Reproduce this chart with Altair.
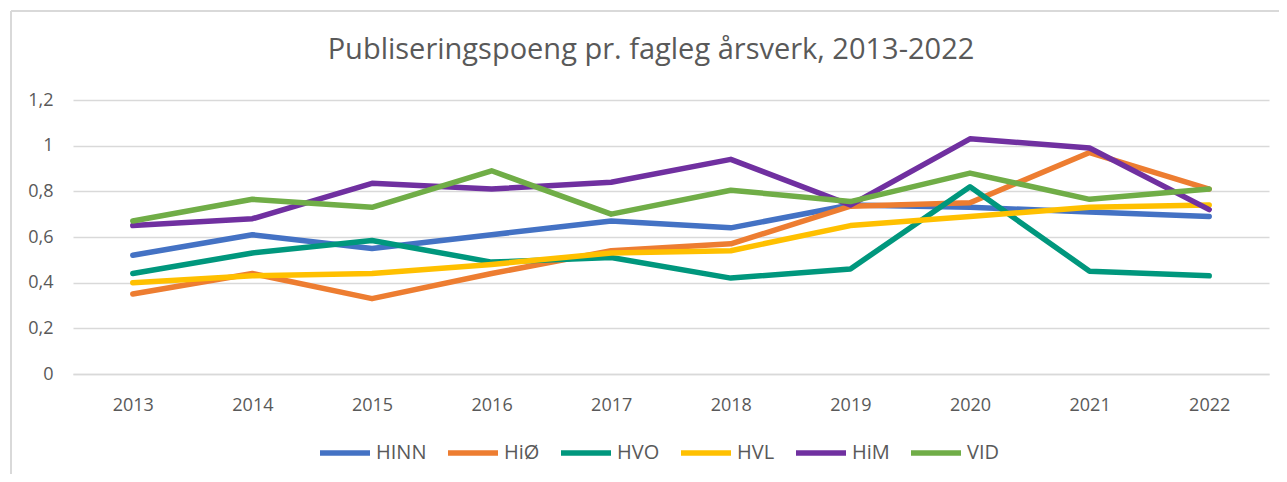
import altair as alt
import pandas as pd

years = ["2013", "2014", "2015", "2016", "2017", "2018", "2019", "2020", "2021", "2022"]
series_names = ["HINN", "HiØ", "HVO", "HVL", "HiM", "VID"]
colors = ["#4472C4", "#ED7D31", "#00977D", "#FFC000", "#7030A0", "#70AD47"]

hinn = [0.52, 0.61, 0.55, 0.61, 0.67, 0.64, 0.74, 0.73, 0.71, 0.69]
hio = [0.35, 0.44, 0.33, 0.44, 0.54, 0.57, 0.735, 0.75, 0.97, 0.81]
hvo = [0.44, 0.53, 0.585, 0.49, 0.51, 0.42, 0.46, 0.82, 0.45, 0.43]
hvl = [0.40, 0.43, 0.44, 0.48, 0.53, 0.54, 0.65, 0.69, 0.73, 0.74]
him = [0.65, 0.68, 0.835, 0.81, 0.84, 0.94, 0.74, 1.03, 0.99, 0.72]
vid = [0.67, 0.765, 0.73, 0.89, 0.70, 0.805, 0.755, 0.88, 0.765, 0.81]

title_text = "Publiseringspoeng pr. fagleg årsverk, 2013-2022"

values = [hinn, hio, hvo, hvl, him, vid]
rows = []
for i, (name, vals) in enumerate(zip(series_names, values)):
    for y, v in zip(years, vals):
        rows.append({"year": y, "series": name, "value": v, "order": i})
df = pd.DataFrame(rows)

FONT = "Open Sans"
GREY = "#595959"

lines = alt.Chart(df).mark_line(strokeWidth=5.5, strokeCap="round", strokeJoin="round").encode(
    x=alt.X("year:O", title=None, sort=years,
            axis=alt.Axis(labelAngle=0, ticks=False, domain=True, domainColor="#d9d9d9",
                          domainWidth=1.5, labelPadding=22, labelFontSize=18,
                          labelColor=GREY, labelFont=FONT)),
    y=alt.Y("value:Q", title=None,
            scale=alt.Scale(domain=[0, 1.2], nice=False, zero=True),
            axis=alt.Axis(values=[0, 0.2, 0.4, 0.6, 0.8, 1.0, 1.2], ticks=False, domain=False,
                          gridColor="#d9d9d9", gridWidth=1.5, labelPadding=20,
                          labelFontSize=18, labelColor=GREY, labelFont=FONT,
                          labelExpr="replace(format(datum.value, '~g'), '.', ',')")),
    color=alt.Color("series:N", scale=alt.Scale(domain=series_names, range=colors),
                    title=None,
                    legend=alt.Legend(orient="none", legendX=244, legendY=325,
                                      direction="horizontal", symbolType="stroke",
                                      symbolSize=2500, symbolStrokeWidth=5.5,
                                      labelFontSize=20, labelFont=FONT, labelColor=GREY,
                                      labelOffset=3, columnPadding=10)),
    detail="series:N",
    order="order:Q",
)

title_df = pd.DataFrame({"t": [title_text]})
title = alt.Chart(title_df).mark_text(font=FONT, fontSize=29, color=GREY,
                                      align="center", baseline="middle").encode(
    text="t:N", x=alt.value(578), y=alt.value(-50)
)

frame_left = alt.Chart(title_df).mark_rule(color="#d9d9d9", strokeWidth=2).encode(
    x=alt.value(-62), y=alt.value(-89), y2=alt.value(400)
)
frame_top = alt.Chart(title_df).mark_rule(color="#d9d9d9", strokeWidth=2).encode(
    x=alt.value(-62), x2=alt.value(1300), y=alt.value(-89)
)

chart = alt.layer(frame_left, frame_top, title, lines).properties(
    width=1196,
    height=274,
    autosize=alt.AutoSizeParams(type="none"),
    padding={"left": 65, "top": 92, "right": 10, "bottom": 100},
).configure_view(stroke=None)

chart.save("out.html", embed_options={"renderer": "svg", "actions": False})
